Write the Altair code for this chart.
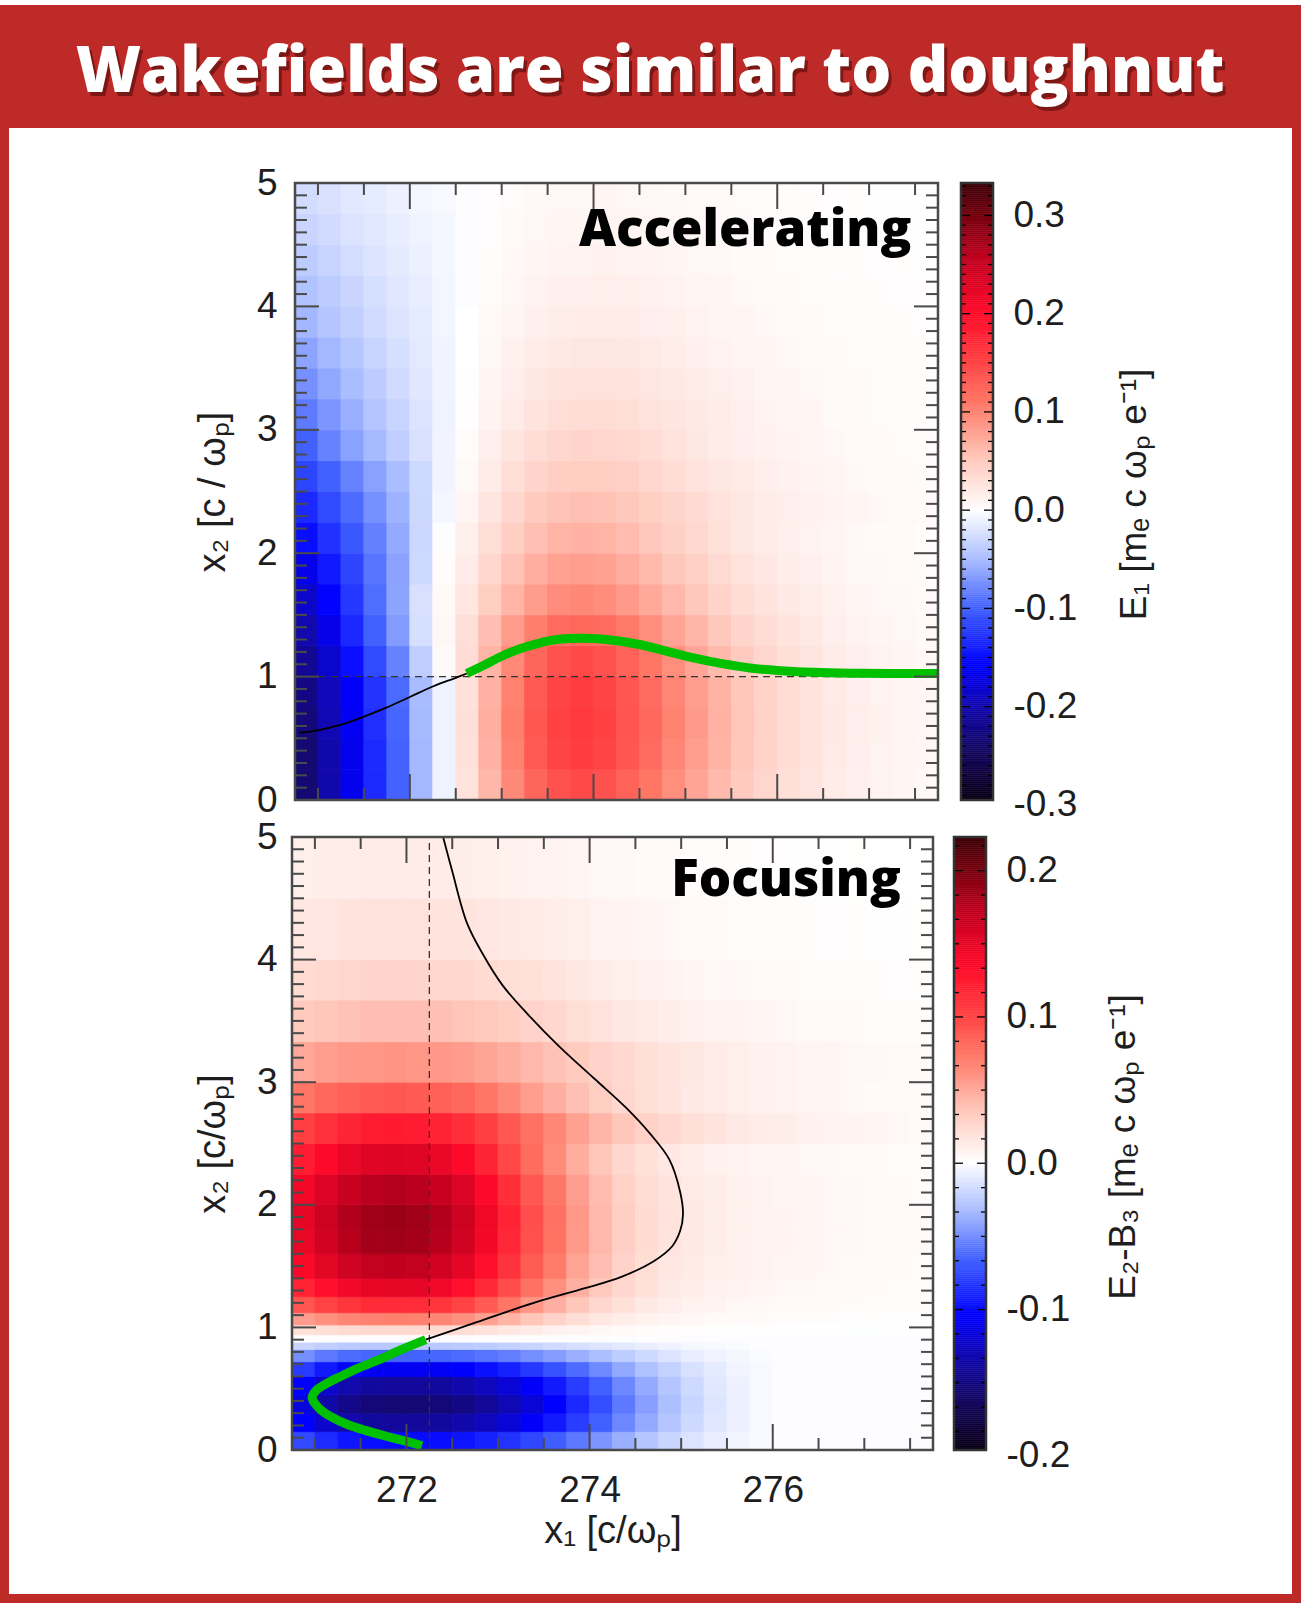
import numpy as np
import pandas as pd
import altair as alt

# ---------------------------------------------------------------- text
TITLE = "Wakefields are similar to doughnut"
LABEL_TOP = "Accelerating"
LABEL_BOT = "Focusing"
X_TITLE = "x\u2081 [c/\u03c9\u209a]"
Y_TITLE_TOP = "x\u2082 [c / \u03c9\u209a]"
Y_TITLE_BOT = "x\u2082 [c/\u03c9\u209a]"
CB_TITLE_TOP = "E\u2081 [m\u2091 c \u03c9\u209a e\u207b\u00b9]"
CB_TITLE_BOT = "E\u2082-B\u2083 [m\u2091 c \u03c9\u209a e\u207b\u00b9]"

# ---------------------------------------------------------------- grids
X1_EDGES = [270.75, 271.0, 271.25, 271.5, 271.75, 272.0, 272.25, 272.5, 272.75,
            273.0, 273.25, 273.5, 273.75, 274.0, 274.25, 274.5, 274.75, 275.0,
            275.25, 275.5, 275.75, 276.0, 276.25, 276.5, 276.75, 277.0, 277.25,
            277.5, 277.75]
E1_X2_EDGES = [0.0, 0.25, 0.5, 0.75, 1.0, 1.25, 1.5, 1.75, 2.0, 2.25, 2.5, 2.75,
               3.0, 3.25, 3.5, 3.75, 4.0, 4.25, 4.5, 4.75, 5.0]
FOC_X2_EDGES = [0.0, 0.15, 0.3, 0.45, 0.6, 0.72, 0.82, 0.88, 0.94, 1.02, 1.12,
                1.25, 1.4, 1.6, 1.8, 2.0, 2.25, 2.5, 2.75, 3.0, 3.33, 3.67, 4.0,
                4.5, 5.0]

# accelerating field E1, one row per x2 band (bottom band first)
E1_ROWS = [
    [-0.235, -0.202, -0.167, -0.132, -0.099, -0.052, -0.009, 0.028, 0.064, 0.096, 0.123, 0.139, 0.145, 0.139, 0.126, 0.110, 0.093, 0.077, 0.062, 0.049, 0.039, 0.030, 0.025, 0.019, 0.015, 0.012, 0.009, 0.007],
    [-0.235, -0.202, -0.167, -0.132, -0.099, -0.052, -0.009, 0.029, 0.068, 0.102, 0.132, 0.149, 0.155, 0.149, 0.135, 0.118, 0.099, 0.082, 0.067, 0.053, 0.042, 0.033, 0.026, 0.020, 0.016, 0.012, 0.010, 0.008],
    [-0.230, -0.198, -0.163, -0.129, -0.097, -0.051, -0.009, 0.030, 0.070, 0.104, 0.134, 0.152, 0.158, 0.152, 0.137, 0.120, 0.101, 0.084, 0.068, 0.054, 0.043, 0.033, 0.027, 0.021, 0.016, 0.013, 0.010, 0.008],
    [-0.225, -0.194, -0.160, -0.126, -0.095, -0.050, -0.009, 0.029, 0.068, 0.102, 0.132, 0.149, 0.155, 0.149, 0.135, 0.118, 0.099, 0.082, 0.067, 0.053, 0.042, 0.033, 0.026, 0.020, 0.016, 0.012, 0.010, 0.008],
    [-0.215, -0.183, -0.148, -0.114, -0.082, -0.037, 0.005, 0.032, 0.066, 0.097, 0.123, 0.139, 0.145, 0.139, 0.126, 0.110, 0.093, 0.077, 0.062, 0.049, 0.039, 0.030, 0.025, 0.019, 0.015, 0.012, 0.009, 0.007],
    [-0.200, -0.168, -0.134, -0.100, -0.068, -0.024, 0.008, 0.031, 0.059, 0.083, 0.104, 0.118, 0.122, 0.118, 0.106, 0.093, 0.078, 0.065, 0.052, 0.041, 0.033, 0.026, 0.021, 0.016, 0.012, 0.010, 0.008, 0.006],
    [-0.185, -0.155, -0.124, -0.093, -0.063, -0.023, 0.006, 0.024, 0.047, 0.066, 0.083, 0.094, 0.098, 0.094, 0.085, 0.074, 0.063, 0.052, 0.042, 0.033, 0.026, 0.021, 0.017, 0.013, 0.010, 0.008, 0.0065, 0.005],
    [-0.168, -0.143, -0.116, -0.089, -0.064, -0.028, 0.003, 0.019, 0.038, 0.055, 0.070, 0.079, 0.082, 0.079, 0.071, 0.062, 0.052, 0.044, 0.035, 0.028, 0.022, 0.017, 0.014, 0.011, 0.008, 0.0065, 0.0053, 0.004],
    [-0.150, -0.128, -0.105, -0.083, -0.060, -0.030, -0.001, 0.014, 0.031, 0.046, 0.058, 0.066, 0.068, 0.066, 0.060, 0.052, 0.044, 0.036, 0.029, 0.023, 0.018, 0.014, 0.012, 0.009, 0.007, 0.0055, 0.0047, 0.0031],
    [-0.133, -0.114, -0.094, -0.074, -0.055, -0.029, -0.006, 0.010, 0.025, 0.038, 0.049, 0.055, 0.058, 0.056, 0.052, 0.046, 0.040, 0.034, 0.028, 0.023, 0.019, 0.015, 0.013, 0.011, 0.0085, 0.007, 0.006, 0.0046],
    [-0.116, -0.100, -0.082, -0.065, -0.049, -0.028, -0.008, 0.006, 0.019, 0.031, 0.040, 0.046, 0.048, 0.047, 0.044, 0.038, 0.033, 0.028, 0.023, 0.020, 0.016, 0.013, 0.011, 0.009, 0.007, 0.006, 0.0045, 0.0037],
    [-0.100, -0.082, -0.065, -0.051, -0.036, -0.022, -0.008, 0.004, 0.015, 0.025, 0.033, 0.038, 0.040, 0.039, 0.037, 0.033, 0.028, 0.023, 0.019, 0.016, 0.013, 0.011, 0.0087, 0.0073, 0.0058, 0.0051, 0.004, 0.0033],
    [-0.086, -0.071, -0.057, -0.044, -0.032, -0.021, -0.009, 0.002, 0.011, 0.019, 0.026, 0.031, 0.033, 0.033, 0.031, 0.028, 0.025, 0.021, 0.018, 0.015, 0.012, 0.0098, 0.0084, 0.0063, 0.0056, 0.0042, 0.0035, 0.0028],
    [-0.074, -0.061, -0.049, -0.038, -0.027, -0.018, -0.008, 0.001, 0.009, 0.016, 0.022, 0.026, 0.028, 0.028, 0.027, 0.024, 0.021, 0.018, 0.015, 0.013, 0.0098, 0.0084, 0.007, 0.0056, 0.0049, 0.0035, 0.0032, 0.0025],
    [-0.063, -0.052, -0.042, -0.032, -0.024, -0.016, -0.008, 0.000, 0.007, 0.013, 0.018, 0.021, 0.023, 0.023, 0.022, 0.020, 0.017, 0.014, 0.012, 0.010, 0.0083, 0.0069, 0.0059, 0.0048, 0.0039, 0.0032, 0.0026, 0.0021],
    [-0.053, -0.043, -0.035, -0.027, -0.020, -0.014, -0.007, 0.000, 0.006, 0.010, 0.014, 0.017, 0.018, 0.019, 0.018, 0.016, 0.014, 0.012, 0.0098, 0.0085, 0.0065, 0.0059, 0.0046, 0.0039, 0.0031, 0.0026, 0.0021, 0.0017],
    [-0.045, -0.038, -0.031, -0.024, -0.018, -0.013, -0.007, -0.001, 0.004, 0.008, 0.012, 0.014, 0.015, 0.016, 0.015, 0.013, 0.012, 0.010, 0.0083, 0.0070, 0.0058, 0.0048, 0.0038, 0.0032, 0.0026, 0.0022, 0.0018, 0.0015],
    [-0.038, -0.032, -0.025, -0.020, -0.015, -0.011, -0.006, -0.001, 0.003, 0.007, 0.009, 0.011, 0.012, 0.013, 0.012, 0.011, 0.010, 0.008, 0.0068, 0.0056, 0.0046, 0.0039, 0.0032, 0.0026, 0.0022, 0.0017, 0.0014, 0.0012],
    [-0.031, -0.027, -0.021, -0.017, -0.013, -0.009, -0.006, -0.001, 0.002, 0.006, 0.008, 0.010, 0.010, 0.011, 0.010, 0.009, 0.008, 0.0067, 0.0058, 0.0049, 0.0040, 0.0033, 0.0028, 0.0022, 0.0018, 0.0015, 0.0012, 0.0010],
    [-0.026, -0.022, -0.017, -0.014, -0.010, -0.007, -0.004, -0.001, 0.002, 0.004, 0.007, 0.008, 0.008, 0.009, 0.008, 0.008, 0.0066, 0.0057, 0.0048, 0.0040, 0.0032, 0.0027, 0.0022, 0.0018, 0.0015, 0.0012, 0.0010, 0.0008],
]

# focusing field E2-B3, one row per x2 band (bottom band first)
E2B3_ROWS = [
    [-0.075, -0.087, -0.095, -0.099, -0.100, -0.100, -0.099, -0.096, -0.091, -0.084, -0.076, -0.067, -0.057, -0.047, -0.037, -0.028, -0.020, -0.013, -0.008, -0.004, -0.0015, 0.0, 0.0, 0.0, 0.0, 0.0, 0.0, 0.0],
    [-0.105, -0.122, -0.133, -0.139, -0.140, -0.140, -0.139, -0.134, -0.127, -0.118, -0.106, -0.094, -0.080, -0.066, -0.052, -0.039, -0.028, -0.018, -0.011, -0.006, -0.002, 0.0, 0.0, 0.0, 0.0, 0.0, 0.0, 0.0],
    [-0.116, -0.135, -0.147, -0.153, -0.155, -0.155, -0.153, -0.149, -0.141, -0.130, -0.118, -0.104, -0.088, -0.073, -0.057, -0.043, -0.031, -0.020, -0.012, -0.006, -0.002, 0.0, 0.0, 0.0, 0.0, 0.0, 0.0, 0.0],
    [-0.105, -0.122, -0.133, -0.139, -0.140, -0.140, -0.139, -0.134, -0.127, -0.118, -0.106, -0.094, -0.080, -0.066, -0.052, -0.039, -0.028, -0.018, -0.011, -0.006, -0.002, 0.0, 0.0, 0.0, 0.0, 0.0, 0.0, 0.0],
    [-0.081, -0.094, -0.103, -0.107, -0.108, -0.108, -0.107, -0.104, -0.098, -0.091, -0.082, -0.072, -0.062, -0.051, -0.040, -0.030, -0.022, -0.014, -0.009, -0.004, -0.002, 0.0, 0.0, 0.0, 0.0, 0.0, 0.0, 0.0],
    [-0.049, -0.057, -0.062, -0.064, -0.065, -0.065, -0.064, -0.062, -0.059, -0.055, -0.049, -0.044, -0.037, -0.031, -0.024, -0.018, -0.013, -0.008, -0.005, -0.003, -0.001, 0.0, 0.0, 0.0, 0.0, 0.0, 0.0, 0.0],
    [-0.020, -0.023, -0.025, -0.026, -0.026, -0.026, -0.026, -0.025, -0.024, -0.022, -0.020, -0.017, -0.015, -0.012, -0.010, -0.007, -0.005, -0.003, -0.002, -0.001, 0.0, 0.0, 0.0, 0.0, 0.0, 0.0, 0.0, 0.0],
    [0.0, 0.0, 0.0, 0.0, 0.0, 0.0, 0.0, 0.0, 0.0, 0.0, 0.0, 0.0, 0.0, 0.0, 0.0, 0.0, 0.0, 0.0, 0.0, 0.0, 0.0, 0.0, 0.0, 0.0, 0.0, 0.0, 0.0, 0.0],
    [0.020, 0.022, 0.024, 0.025, 0.025, 0.025, 0.024, 0.022, 0.019, 0.016, 0.013, 0.010, 0.008, 0.006, 0.004, 0.003, 0.0025, 0.002, 0.0017, 0.0014, 0.0012, 0.001, 0.001, 0.0008, 0.0007, 0.0007, 0.0006, 0.0005],
    [0.056, 0.062, 0.067, 0.069, 0.070, 0.069, 0.067, 0.062, 0.054, 0.045, 0.036, 0.029, 0.022, 0.016, 0.012, 0.009, 0.007, 0.0056, 0.0046, 0.0039, 0.0034, 0.0029, 0.0026, 0.0023, 0.002, 0.0018, 0.0016, 0.0015],
    [0.092, 0.101, 0.109, 0.114, 0.115, 0.114, 0.109, 0.101, 0.089, 0.074, 0.059, 0.047, 0.036, 0.026, 0.020, 0.015, 0.0115, 0.0092, 0.0076, 0.0063, 0.0055, 0.0048, 0.0043, 0.0038, 0.0033, 0.003, 0.0026, 0.0024],
    [0.120, 0.132, 0.143, 0.149, 0.150, 0.149, 0.143, 0.132, 0.116, 0.096, 0.077, 0.062, 0.047, 0.035, 0.026, 0.020, 0.015, 0.012, 0.010, 0.0083, 0.0072, 0.0063, 0.0056, 0.005, 0.0044, 0.0039, 0.0035, 0.0032],
    [0.138, 0.151, 0.163, 0.170, 0.172, 0.170, 0.163, 0.151, 0.132, 0.110, 0.088, 0.071, 0.053, 0.040, 0.029, 0.022, 0.017, 0.014, 0.011, 0.0095, 0.0083, 0.0072, 0.0064, 0.0057, 0.005, 0.0045, 0.004, 0.0036],
    [0.148, 0.163, 0.176, 0.183, 0.185, 0.183, 0.176, 0.163, 0.142, 0.118, 0.094, 0.076, 0.057, 0.043, 0.031, 0.024, 0.0185, 0.015, 0.012, 0.010, 0.0089, 0.0078, 0.0068, 0.0061, 0.0054, 0.0048, 0.0043, 0.0039],
    [0.150, 0.165, 0.178, 0.185, 0.187, 0.185, 0.178, 0.165, 0.144, 0.120, 0.095, 0.077, 0.058, 0.043, 0.032, 0.024, 0.019, 0.015, 0.012, 0.010, 0.009, 0.0079, 0.0069, 0.0062, 0.0054, 0.0049, 0.0043, 0.0039],
    [0.142, 0.156, 0.168, 0.175, 0.177, 0.175, 0.168, 0.156, 0.136, 0.113, 0.090, 0.073, 0.055, 0.041, 0.030, 0.023, 0.018, 0.014, 0.012, 0.0097, 0.0085, 0.0074, 0.0065, 0.0058, 0.0051, 0.0046, 0.0041, 0.0037],
    [0.124, 0.136, 0.147, 0.153, 0.155, 0.153, 0.147, 0.136, 0.119, 0.099, 0.079, 0.064, 0.048, 0.036, 0.026, 0.020, 0.0155, 0.0124, 0.010, 0.0085, 0.0074, 0.0065, 0.0057, 0.0051, 0.0045, 0.004, 0.0036, 0.0033],
    [0.103, 0.112, 0.119, 0.124, 0.125, 0.124, 0.120, 0.113, 0.103, 0.090, 0.077, 0.066, 0.054, 0.044, 0.036, 0.030, 0.025, 0.021, 0.018, 0.015, 0.013, 0.012, 0.010, 0.009, 0.008, 0.007, 0.006, 0.005],
    [0.074, 0.081, 0.086, 0.089, 0.090, 0.089, 0.086, 0.081, 0.074, 0.065, 0.055, 0.047, 0.039, 0.032, 0.026, 0.022, 0.018, 0.015, 0.013, 0.011, 0.0096, 0.0085, 0.0073, 0.0065, 0.0056, 0.005, 0.0044, 0.0039],
    [0.051, 0.055, 0.058, 0.059, 0.060, 0.059, 0.058, 0.056, 0.052, 0.048, 0.043, 0.038, 0.034, 0.029, 0.025, 0.021, 0.018, 0.016, 0.013, 0.011, 0.0099, 0.0087, 0.0075, 0.0066, 0.0057, 0.0051, 0.0045, 0.0039],
    [0.034, 0.036, 0.038, 0.040, 0.040, 0.040, 0.039, 0.037, 0.035, 0.032, 0.029, 0.026, 0.022, 0.019, 0.016, 0.014, 0.012, 0.010, 0.0088, 0.0076, 0.0066, 0.0058, 0.005, 0.0044, 0.0038, 0.0034, 0.003, 0.0026],
    [0.024, 0.025, 0.027, 0.028, 0.028, 0.028, 0.027, 0.026, 0.024, 0.022, 0.020, 0.018, 0.016, 0.013, 0.011, 0.0098, 0.0084, 0.0073, 0.0062, 0.0053, 0.0046, 0.0041, 0.0035, 0.0031, 0.0027, 0.0024, 0.0021, 0.0018],
    [0.016, 0.017, 0.018, 0.019, 0.019, 0.019, 0.018, 0.018, 0.017, 0.015, 0.014, 0.012, 0.011, 0.009, 0.0078, 0.0067, 0.0057, 0.0049, 0.0042, 0.0036, 0.0031, 0.0028, 0.0024, 0.0021, 0.0018, 0.0016, 0.0014, 0.0012],
    [0.011, 0.012, 0.012, 0.013, 0.013, 0.013, 0.013, 0.012, 0.011, 0.010, 0.0094, 0.0083, 0.0073, 0.0062, 0.0053, 0.0046, 0.0039, 0.0034, 0.0029, 0.0025, 0.0021, 0.0019, 0.0016, 0.0014, 0.0012, 0.0011, 0.001, 0.0008],
]

assert all(len(r) == len(X1_EDGES) - 1 for r in E1_ROWS + E2B3_ROWS)
assert len(E1_ROWS) == len(E1_X2_EDGES) - 1 and len(E2B3_ROWS) == len(FOC_X2_EDGES) - 1

# ---------------------------------------------------------------- trajectories
ACC_BLACK_X1 = [270.80, 271.0, 271.25, 271.5, 271.75, 272.0, 272.25, 272.5, 272.62]
ACC_BLACK_X2 = [0.545, 0.565, 0.61, 0.675, 0.75, 0.835, 0.92, 0.99, 1.025]
ACC_GREEN_X1 = [272.62, 272.8, 273.0, 273.2, 273.4, 273.6, 273.9, 274.2, 274.5, 274.8,
                275.1, 275.4, 275.7, 276.0, 276.4, 276.8, 277.2, 277.75]
ACC_GREEN_X2 = [1.025, 1.09, 1.165, 1.225, 1.27, 1.30, 1.31, 1.295, 1.26, 1.205,
                1.15, 1.105, 1.07, 1.05, 1.035, 1.028, 1.025, 1.025]
FOC_BLACK_X1 = [272.21, 272.72, 273.39, 273.95, 274.34, 274.7, 274.9, 274.99, 275.02,
                274.99, 274.87, 274.66, 274.40, 274.05, 273.67, 273.33, 273.05,
                272.83, 272.66, 272.50, 272.40]
FOC_BLACK_X2 = [0.90, 1.03, 1.20, 1.32, 1.41, 1.54, 1.66, 1.79, 1.92, 2.1, 2.37,
                2.58, 2.79, 3.03, 3.29, 3.55, 3.79, 4.05, 4.30, 4.72, 5.0]
FOC_GREEN_X1 = [272.21, 271.95, 271.71, 271.48, 271.28, 271.12, 271.02, 270.97,
                271.0, 271.06, 271.18, 271.35, 271.55, 271.79, 272.0, 272.17]
FOC_GREEN_X2 = [0.90, 0.82, 0.74, 0.67, 0.60, 0.54, 0.49, 0.43, 0.38, 0.33, 0.27,
                0.21, 0.16, 0.11, 0.07, 0.035]
ACC_GUIDE_X2 = 1.0
FOC_GUIDE_X1 = 272.25

# ---------------------------------------------------------------- ticks / ranges
X1_TICK_LABELS = [272, 274, 276]
X1_MINOR = [271.0, 271.5, 272.5, 273.0, 273.5, 274.5, 275.0, 275.5, 276.5, 277.0, 277.5]
X2_TICK_LABELS = [0, 1, 2, 3, 4, 5]
X2_MINOR = [k / 10 for k in range(1, 50) if k % 10]
E1_RANGE = (-0.295, 0.333)
E2B3_RANGE = (-0.196, 0.223)
E1_BAR_LABELS = [-0.3, -0.2, -0.1, 0.0, 0.1, 0.2, 0.3]
E2B3_BAR_LABELS = [-0.2, -0.1, 0.0, 0.1, 0.2]
E1_BAR_MINOR = [k / 100 for k in range(-29, 34) if k % 10]
E2B3_BAR_MINOR = [k / 60 for k in range(-11, 14) if k % 6]

# ---------------------------------------------------------------- styling
FONT = "Liberation Sans"
HEAD_FONT = "Open Sans"
INK = "#1e1e1e"
FRAME = "#4a4a4a"
RED = "#be2a27"
GREEN = "#00c000"
STOP_FRACS = [0.0, 0.08, 0.16, 0.22, 0.31, 0.39, 0.47, 0.55, 0.64, 0.72, 0.79, 0.88, 0.95, 1.0]
STOP_COLORS = ["#0a0016", "#150860", "#1008b8", "#0000ff", "#4060ff", "#a8bcff", "#ffffff",
               "#ffcabe", "#ff7a68", "#ff3a3e", "#ff0a2a", "#c0001f", "#74000e", "#3c0008"]

ORIGIN = 292          # page x of the plot origin shared by all rows
ONE = pd.DataFrame({"t": [0]})


def field_scale(lo, hi):
    return alt.Scale(domain=[lo + f * (hi - lo) for f in STOP_FRACS],
                     range=STOP_COLORS, interpolate="rgb", clamp=True)


def cell_table(rows, x2_edges):
    recs = []
    for i, row in enumerate(rows):
        for j, v in enumerate(row):
            recs.append({"a": X1_EDGES[j], "b": X1_EDGES[j + 1],
                         "c": x2_edges[i], "d": x2_edges[i + 1], "v": v})
    return pd.DataFrame(recs)


def field_panel(rows, x2_edges, cscale, xr, H, xaxis, yaxis, curves, guide, label):
    xs = alt.Scale(domain=[X1_EDGES[0], X1_EDGES[-1]], range=list(xr), nice=False, zero=False)
    ys = alt.Scale(domain=[0, 5], nice=False, zero=False)

    def X(f):
        return alt.X(f + ":Q", scale=xs, axis=xaxis)

    def Y(f):
        return alt.Y(f + ":Q", scale=ys, axis=yaxis)

    layers = [
        alt.Chart(cell_table(rows, x2_edges)).mark_rect(strokeWidth=0.8).encode(
            x=X("a"), x2="b", y=Y("c"), y2="d",
            fill=alt.Fill("v:Q", scale=cscale, legend=None),
            stroke=alt.Stroke("v:Q", scale=cscale, legend=None))
    ]
    kind, val = guide
    if kind == "h":
        g = pd.DataFrame({"g": [val], "p": [X1_EDGES[0]], "q": [X1_EDGES[-1]]})
        layers.append(alt.Chart(g).mark_rule(color="#333333", strokeWidth=1.3, strokeDash=[7, 5])
                      .encode(y=Y("g"), x=X("p"), x2="q"))
    else:
        g = pd.DataFrame({"g": [val], "p": [0.0], "q": [5.0]})
        layers.append(alt.Chart(g).mark_rule(color="#333333", strokeWidth=1.3, strokeDash=[7, 5])
                      .encode(x=X("g"), y=Y("p"), y2="q"))
    for xs_, ys_, color, width in curves:
        d = pd.DataFrame({"p": xs_, "q": ys_, "k": list(range(len(xs_)))})
        layers.append(alt.Chart(d).mark_line(color=color, strokeWidth=width,
                                             interpolate="catmull-rom")
                      .encode(x=X("p"), y=Y("q"), order="k:Q"))
    # inward ticks on all four sides
    for vals, L in ((X1_TICK_LABELS, 26), (X1_MINOR, 12)):
        d = pd.DataFrame({"t": vals})
        layers.append(alt.Chart(d).mark_rule(color=FRAME, strokeWidth=2)
                      .encode(x=X("t"), y=alt.value(0), y2=alt.value(L)))
        layers.append(alt.Chart(d).mark_rule(color=FRAME, strokeWidth=2)
                      .encode(x=X("t"), y=alt.value(H), y2=alt.value(H - L)))
    for vals, L in ((X2_TICK_LABELS, 24), (X2_MINOR, 12)):
        d = pd.DataFrame({"t": vals})
        layers.append(alt.Chart(d).mark_rule(color=FRAME, strokeWidth=2)
                      .encode(y=Y("t"), x=alt.value(xr[0]), x2=alt.value(xr[0] + L)))
        layers.append(alt.Chart(d).mark_rule(color=FRAME, strokeWidth=2)
                      .encode(y=Y("t"), x=alt.value(xr[1]), x2=alt.value(xr[1] - L)))
    layers.append(alt.Chart(ONE).mark_rect(filled=False, color=FRAME, strokeWidth=2.5)
                  .encode(x=alt.value(xr[0]), x2=alt.value(xr[1]), y=alt.value(0), y2=alt.value(H)))
    lx, ly, text = label
    d = pd.DataFrame({"p": [lx], "q": [ly], "s": [text]})
    layers.append(alt.Chart(d).mark_text(align="right", baseline="alphabetic", font=HEAD_FONT,
                                         fontWeight=800, fontSize=51, color="black")
                  .encode(x=X("p"), y=Y("q"), text="s:N"))
    return alt.layer(*layers)


def colour_bar(vrange, labels, minor, title, cx, H, cscale, title_pad):
    lo, hi = vrange
    ext_lo, ext_hi = min(lo, min(labels)), max(hi, max(labels))
    ppu = H / (hi - lo)
    ys = alt.Scale(domain=[ext_lo, ext_hi],
                   range=[H + (lo - ext_lo) * ppu, -(ext_hi - hi) * ppu],
                   nice=False, zero=False)
    yaxis = alt.Axis(orient="right", values=labels,
                     labelExpr="replace(format(datum.value, '.1f'), '\u2212', '-')",
                     ticks=False, domain=False, grid=False,
                     labelFont=FONT, labelFontSize=37, labelColor=INK, labelPadding=20,
                     title=title, titleFont=FONT, titleFontSize=37, titleFontWeight="normal",
                     titleColor=INK, titleAngle=270, titleBaseline="top", titlePadding=title_pad)

    def Y(f):
        return alt.Y(f + ":Q", scale=ys, axis=yaxis)

    edges = np.linspace(lo, hi, 301)
    ramp = pd.DataFrame({"lo": edges[:-1], "hi": edges[1:], "v": (edges[:-1] + edges[1:]) / 2})
    layers = [
        alt.Chart(ramp).mark_rect(strokeWidth=0.6).encode(
            x=alt.value(cx[0]), x2=alt.value(cx[1]), y=Y("lo"), y2="hi",
            fill=alt.Fill("v:Q", scale=cscale, legend=None),
            stroke=alt.Stroke("v:Q", scale=cscale, legend=None))
    ]
    major = [v for v in labels if lo <= v <= hi]
    for vals, L in ((major, 9), (minor, 5)):
        d = pd.DataFrame({"t": vals})
        layers.append(alt.Chart(d).mark_rule(color="black", strokeWidth=1.3)
                      .encode(y=Y("t"), x=alt.value(cx[0]), x2=alt.value(cx[0] + L)))
        layers.append(alt.Chart(d).mark_rule(color="black", strokeWidth=1.3)
                      .encode(y=Y("t"), x=alt.value(cx[1]), x2=alt.value(cx[1] - L)))
    layers.append(alt.Chart(ONE).mark_rect(filled=False, color="#333333", strokeWidth=2.5)
                  .encode(x=alt.value(cx[0]), x2=alt.value(cx[1]), y=alt.value(0), y2=alt.value(H)))
    return alt.layer(*layers)


def y_axis(title):
    return alt.Axis(orient="left", values=X2_TICK_LABELS, format="d", ticks=False, domain=False,
                    grid=False, labelFont=FONT, labelFontSize=37, labelColor=INK, labelPadding=15,
                    title=title, titleFont=FONT, titleFontSize=38, titleFontWeight="normal",
                    titleColor=INK, titlePadding=24)


# ---------------------------------------------------------------- rows
H1, H2 = 617, 613
cs_top = field_scale(*E1_RANGE)
cs_bot = field_scale(*E2B3_RANGE)

top_panel = field_panel(
    E1_ROWS, E1_X2_EDGES, cs_top, (3, 646), H1, None, y_axis(Y_TITLE_TOP),
    [(ACC_BLACK_X1, ACC_BLACK_X2, "black", 1.8), (ACC_GREEN_X1, ACC_GREEN_X2, GREEN, 9)],
    ("h", ACC_GUIDE_X2), (277.46, 4.49, LABEL_TOP))
top_bar = colour_bar(E1_RANGE, E1_BAR_LABELS, E1_BAR_MINOR, CB_TITLE_TOP, (669, 701), H1,
                     cs_top, 40)
top_row = alt.layer(top_panel, top_bar).resolve_scale(y="independent").properties(
    width=701, height=H1)

x_axis = alt.Axis(values=X1_TICK_LABELS, format="d", ticks=False, domain=False, grid=False,
                  labelFont=FONT, labelFontSize=37, labelColor=INK, labelPadding=22,
                  title=X_TITLE, titleFont=FONT, titleFontSize=38, titleFontWeight="normal",
                  titleColor=INK, titlePadding=4)
bot_panel = field_panel(
    E2B3_ROWS, FOC_X2_EDGES, cs_bot, (0, 641), H2, x_axis, y_axis(Y_TITLE_BOT),
    [(FOC_BLACK_X1, FOC_BLACK_X2, "black", 1.8), (FOC_GREEN_X1, FOC_GREEN_X2, GREEN, 9)],
    ("v", FOC_GUIDE_X1), (277.40, 4.52, LABEL_BOT))
bot_bar = colour_bar(E2B3_RANGE, E2B3_BAR_LABELS, E2B3_BAR_MINOR, CB_TITLE_BOT, (662, 694), H2,
                     cs_bot, 36)
bot_row = alt.layer(bot_panel, bot_bar).resolve_scale(y="independent").properties(
    width=694, height=H2)

# ---------------------------------------------------------------- banner and frame
def band(x0, x1, y0, y1, color):
    return alt.Chart(ONE).mark_rect(color=color).encode(
        x=alt.value(x0 - ORIGIN), x2=alt.value(x1 - ORIGIN), y=alt.value(y0), y2=alt.value(y1))


head_text = pd.DataFrame({"s": [TITLE]})
shadow = alt.Chart(head_text).mark_text(
    font=HEAD_FONT, fontWeight=800, fontSize=63, color="#3a0504", opacity=0.5,
    align="center", baseline="alphabetic", dx=3, dy=4).encode(
    x=alt.value(650 - ORIGIN), y=alt.value(92), text="s:N")
title = alt.Chart(head_text).mark_text(
    font=HEAD_FONT, fontWeight=800, fontSize=63, color="white",
    align="center", baseline="alphabetic").encode(
    x=alt.value(650 - ORIGIN), y=alt.value(92), text="s:N")

header = alt.layer(
    band(0, 1301, 0, 5, "white"),
    band(0, 1301, 5, 128, RED),
    band(0, 9, 128, 1603, RED),
    band(1292, 1301, 128, 1603, RED),
    band(0, 1301, 1594, 1603, RED),
    shadow, title,
).properties(width=700, height=146)

chart = alt.vconcat(header, top_row, bot_row, spacing=37, bounds="flush").resolve_scale(
    fill="independent", stroke="independent").properties(
    padding=0, background="white").configure_view(strokeWidth=0)

chart.save("out.html", embed_options={"renderer": "svg", "actions": False})
